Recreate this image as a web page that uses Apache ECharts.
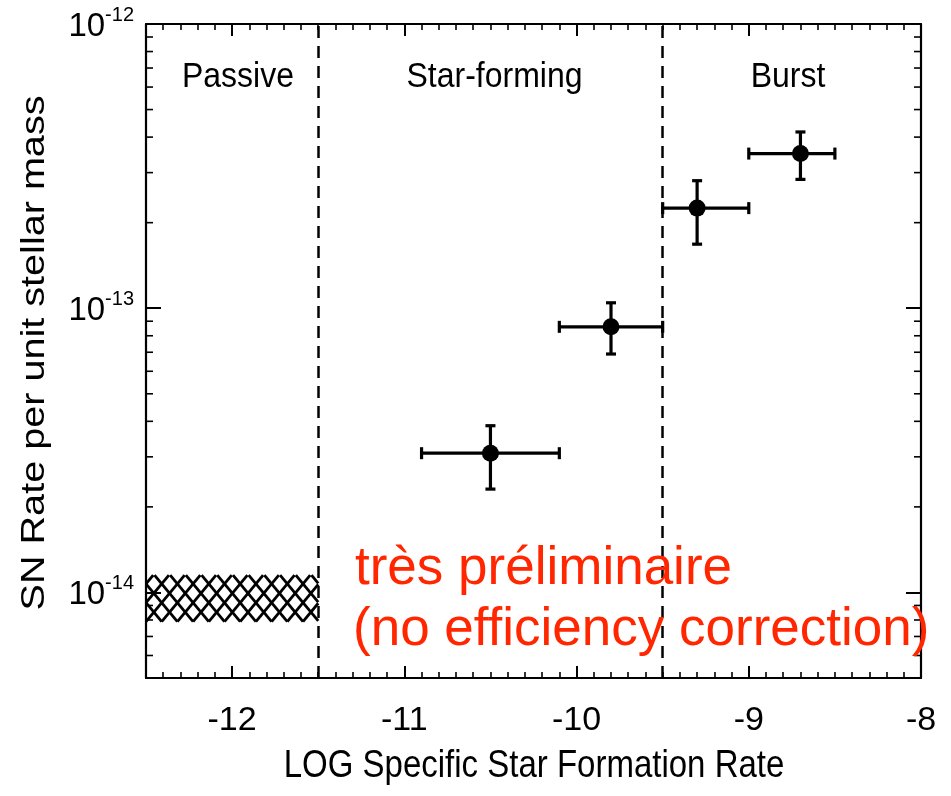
<!DOCTYPE html>
<html>
<head>
<meta charset="utf-8">
<title>SN rate per unit stellar mass vs sSFR</title>
<script src="https://cdn.jsdelivr.net/npm/echarts@6/dist/echarts.min.js"></script>
<style>
  html, body { margin: 0; padding: 0; background: #ffffff; }
  #chart { width: 951px; height: 796px; }
</style>
</head>
<body>
<div id="chart"></div>
<script>
// ---- data -------------------------------------------------------------
// Binned SN rate per unit stellar mass against log specific SFR
const ssfr      = [-10.5, -9.8, -9.3, -8.7];
const ssfrLow   = [-10.9, -10.1, -9.5, -9.0];
const ssfrHigh  = [-10.1, -9.5, -9.0, -8.5];
const snRate     = [3.09e-14, 8.6e-14, 2.25e-13, 3.5e-13];
const snRateLow  = [2.31e-14, 6.9e-14, 1.68e-13, 2.84e-13];
const snRateHigh = [3.86e-14, 1.045e-13, 2.81e-13, 4.17e-13];

// Passive galaxies: allowed band (hatched)
const passiveSsfr = [-12.5, -11.5];
const passiveRate = [7.9e-15, 1.15e-14];

// Class boundaries and labels
const classEdges  = [-11.5, -9.5];
const classNames  = ['Passive', 'Star-forming', 'Burst'];

// Axis ticks
const xRange = [-12.5, -8];
const yRange = [5e-15, 1e-12];
const xMajorTicks = [-12, -11, -10, -9, -8];
const yMinorTicks = [
  6e-15, 7e-15, 8e-15, 9e-15,
  2e-14, 3e-14, 4e-14, 5e-14, 6e-14, 7e-14, 8e-14, 9e-14,
  2e-13, 3e-13, 4e-13, 5e-13, 6e-13, 7e-13, 8e-13, 9e-13
];

// ---- styling ----------------------------------------------------------
const FONT = '"Liberation Sans", Arial, Helvetica, sans-serif';
const INK = '#000000';
const RED = '#ff2600';

const chart = echarts.init(document.getElementById('chart'), null, { renderer: 'canvas' });

function baseX(extra) {
  return Object.assign({
    type: 'value', gridIndex: 0, min: xRange[0], max: xRange[1],
    splitLine: { show: false },
    axisLabel: { show: false },
    axisLine: { show: false }
  }, extra);
}

const xAxes = [
  baseX({
    position: 'bottom',
    axisLine: { show: true, onZero: false, lineStyle: { color: INK, width: 2.2 } },
    axisTick: { show: true, inside: true, length: 12, customValues: xMajorTicks,
                lineStyle: { color: INK, width: 2 } },
    axisLabel: { show: true, customValues: xMajorTicks, color: INK, fontSize: 34,
                 fontFamily: FONT, margin: 26 }
  }),
  baseX({
    position: 'bottom', interval: 0.1,
    axisTick: { show: true, inside: true, length: 6, lineStyle: { color: INK, width: 1.6 } }
  }),
  baseX({
    position: 'top',
    axisLine: { show: true, onZero: false, lineStyle: { color: INK, width: 2.2 } },
    axisTick: { show: true, inside: true, length: 12, customValues: xMajorTicks,
                lineStyle: { color: INK, width: 2 } }
  }),
  baseX({
    position: 'top', interval: 0.1,
    axisTick: { show: true, inside: true, length: 6, lineStyle: { color: INK, width: 1.6 } }
  })
];

function decadeLabel(v) {
  const e = Math.log10(v);
  const r = Math.round(e);
  if (Math.abs(e - r) > 1e-6) return '';
  return '{b|10}{s|' + r + '}';
}

const yAxes = [
  {
    type: 'log', logBase: 10, gridIndex: 0, position: 'left',
    min: yRange[0], max: yRange[1],
    splitLine: { show: false },
    axisLine: { show: true, onZero: false, lineStyle: { color: INK, width: 2.2 } },
    axisTick: { show: true, inside: true, length: 15, lineStyle: { color: INK, width: 2 } },
    axisLabel: {
      show: true, margin: 12, formatter: decadeLabel,
      rich: {
        b: { fontSize: 33, fontFamily: FONT, color: INK, verticalAlign: 'bottom' },
        s: { fontSize: 20, fontFamily: FONT, color: INK, verticalAlign: 'top', padding: [0, 0, 18, 0] }
      }
    }
  },
  {
    type: 'log', logBase: 10, gridIndex: 0, position: 'right',
    min: yRange[0], max: yRange[1],
    splitLine: { show: false },
    axisLine: { show: true, onZero: false, lineStyle: { color: INK, width: 2.2 } },
    axisTick: { show: true, inside: true, length: 15, lineStyle: { color: INK, width: 2 } },
    axisLabel: { show: false }
  }
];

// hatched band for the passive class
function renderHatch(params, api) {
  const tl = api.coord([api.value(0), api.value(3)]);
  const br = api.coord([api.value(1), api.value(2)]);
  const x0 = tl[0], y0 = tl[1], x1 = br[0], y1 = br[1];
  const h = y1 - y0;
  const step = 15.7;      // spacing between hatch crossings
  const k = 1.2;          // slope of hatch lines (dy/dx)
  const children = [];
  const style = { stroke: INK, lineWidth: 2.8, lineCap: 'butt' };
  const nMin = Math.floor(-h / k / step) - 1;
  const nMax = Math.ceil((x1 - x0 + h / k) / step) + 1;
  for (let n = nMin; n <= nMax; n++) {
    const xb = x0 + n * step;
    // rising to the right
    let dA = Math.max(0, (x0 - xb) * k), dB = Math.min(h, (x1 - xb) * k);
    if (dB > dA) {
      children.push({ type: 'line', shape: { x1: xb + dA / k, y1: y1 - dA, x2: xb + dB / k, y2: y1 - dB }, style });
    }
    // rising to the left
    dA = Math.max(0, (xb - x1) * k); dB = Math.min(h, (xb - x0) * k);
    if (dB > dA) {
      children.push({ type: 'line', shape: { x1: xb - dA / k, y1: y1 - dA, x2: xb - dB / k, y2: y1 - dB }, style });
    }
  }
  return { type: 'group', children };
}

// error bars with end caps
function renderErrorBars(params, api) {
  const c = api.coord([api.value(0), api.value(1)]);
  const xl = api.coord([api.value(2), api.value(1)]);
  const xh = api.coord([api.value(3), api.value(1)]);
  const yl = api.coord([api.value(0), api.value(4)]);
  const yh = api.coord([api.value(0), api.value(5)]);
  const style = { stroke: INK, lineWidth: 3.2 };
  const capV = 6, capH = 5;
  return {
    type: 'group',
    children: [
      { type: 'line', shape: { x1: xl[0], y1: c[1], x2: xh[0], y2: c[1] }, style },
      { type: 'line', shape: { x1: xl[0], y1: c[1] - capV, x2: xl[0], y2: c[1] + capV }, style },
      { type: 'line', shape: { x1: xh[0], y1: c[1] - capV, x2: xh[0], y2: c[1] + capV }, style },
      { type: 'line', shape: { x1: c[0], y1: yl[1], x2: c[0], y2: yh[1] }, style },
      { type: 'line', shape: { x1: c[0] - capH, y1: yl[1], x2: c[0] + capH, y2: yl[1] }, style },
      { type: 'line', shape: { x1: c[0] - capH, y1: yh[1], x2: c[0] + capH, y2: yh[1] }, style }
    ]
  };
}

// minor ticks of the log axis on both frame sides
function renderMinorTicks(params, api) {
  const v = api.value(1);
  const l = api.coord([xRange[0], v]);
  const r = api.coord([xRange[1], v]);
  const style = { stroke: INK, lineWidth: 1.6 };
  return {
    type: 'group',
    children: [
      { type: 'line', shape: { x1: l[0], y1: l[1], x2: l[0] + 7, y2: l[1] }, style },
      { type: 'line', shape: { x1: r[0] - 7, y1: r[1], x2: r[0], y2: r[1] }, style }
    ]
  };
}

const points = ssfr.map((x, i) => [x, snRate[i], ssfrLow[i], ssfrHigh[i], snRateLow[i], snRateHigh[i]]);

const option = {
  backgroundColor: '#ffffff',
  animation: false,
  grid: { left: 146, right: 30, top: 24, bottom: 118, containLabel: false },
  xAxis: xAxes,
  yAxis: yAxes,
  series: [
    {
      type: 'custom', name: 'passive band', xAxisIndex: 0, yAxisIndex: 0,
      renderItem: renderHatch, silent: true, clip: false,
      encode: { x: [0, 1], y: [2, 3] },
      data: [[passiveSsfr[0], passiveSsfr[1], passiveRate[0], passiveRate[1]]],
      z: 2
    },
    {
      type: 'custom', name: 'minor ticks', xAxisIndex: 0, yAxisIndex: 0,
      renderItem: renderMinorTicks, silent: true, clip: false,
      encode: { x: 0, y: 1 },
      data: yMinorTicks.map(v => [xRange[0], v]),
      z: 3
    },
    {
      type: 'custom', name: 'error bars', xAxisIndex: 0, yAxisIndex: 0,
      renderItem: renderErrorBars, silent: true,
      encode: { x: [0, 2, 3], y: [1, 4, 5] },
      data: points,
      z: 4
    },
    {
      type: 'scatter', name: 'SN rate', xAxisIndex: 0, yAxisIndex: 0,
      symbol: 'circle', symbolSize: 17,
      itemStyle: { color: INK, opacity: 1 },
      data: ssfr.map((x, i) => [x, snRate[i]]),
      z: 5,
      markLine: {
        silent: true, symbol: ['none', 'none'],
        label: { show: false },
        lineStyle: { color: INK, width: 2.5, type: [12, 8], opacity: 1 },
        data: classEdges.map(x => ({ xAxis: x }))
      }
    }
  ],
  graphic: [
    { type: 'text', x: 238, y: 77, scaleY: 1.12,
      style: { text: classNames[0], font: '32px ' + FONT, fill: INK, align: 'center', verticalAlign: 'middle' } },
    { type: 'text', x: 494.5, y: 77, scaleY: 1.12,
      style: { text: classNames[1], font: '32px ' + FONT, fill: INK, align: 'center', verticalAlign: 'middle' } },
    { type: 'text', x: 788, y: 77, scaleY: 1.12,
      style: { text: classNames[2], font: '32px ' + FONT, fill: INK, align: 'center', verticalAlign: 'middle' } },
    { type: 'text', x: 534, y: 766, scaleY: 1.17,
      style: { text: 'LOG Specific Star Formation Rate', font: '33px ' + FONT, fill: INK,
               align: 'center', verticalAlign: 'middle' } },
    { type: 'text', x: 35, y: 353, rotation: Math.PI / 2, scaleX: 1.2,
      style: { text: 'SN Rate per unit stellar mass', font: '33px ' + FONT, fill: INK,
               align: 'center', verticalAlign: 'middle' } },
    { type: 'text', x: 355, y: 569, z: 10,
      style: { text: 'très préliminaire', font: '53px ' + FONT, fill: RED,
               align: 'left', verticalAlign: 'middle' } },
    { type: 'text', x: 353, y: 630, z: 10,
      style: { text: '(no efficiency correction)', font: '53px ' + FONT, fill: RED,
               align: 'left', verticalAlign: 'middle' } }
  ]
};

chart.setOption(option);
</script>
</body>
</html>
